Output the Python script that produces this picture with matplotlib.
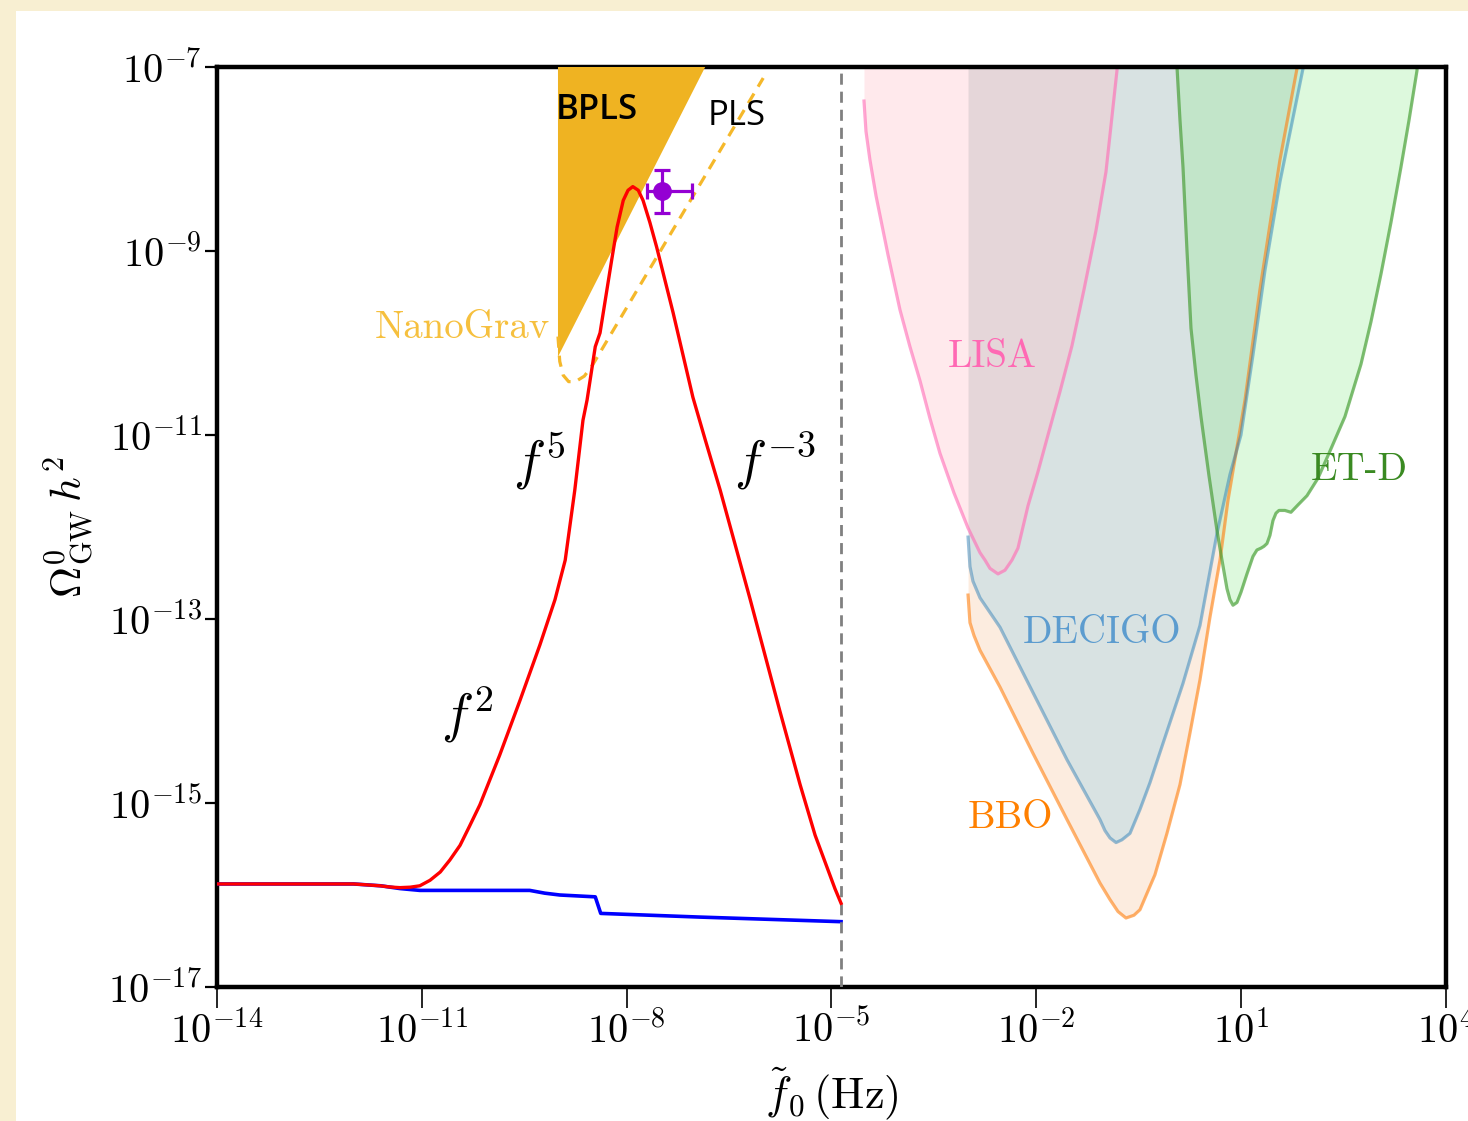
import numpy as np
import matplotlib
matplotlib.use("Agg")
import matplotlib.pyplot as plt
from matplotlib.patches import Rectangle

plt.rcParams['mathtext.fontset'] = 'cm'
plt.rcParams['font.family'] = ['cmr10', 'DejaVu Serif']
plt.rcParams['axes.unicode_minus'] = False

# ---------------- data (log10 values) ----------------
xtick_exp = [-14, -11, -8, -5, -2, 1, 4]
ytick_exp = [-17, -15, -13, -11, -9, -7]
xtick_labels = [r'$10^{-14}$', r'$10^{-11}$', r'$10^{-8}$', r'$10^{-5}$',
                r'$10^{-2}$', r'$10^{1}$', r'$10^{4}$']
ytick_labels = [r'$10^{-17}$', r'$10^{-15}$', r'$10^{-13}$', r'$10^{-11}$',
                r'$10^{-9}$', r'$10^{-7}$']

# red: total spectrum
red_logf = [-14.0, -12.0, -11.80, -11.61, -11.47, -11.32, -11.17, -11.03, -10.88, -10.73,
            -10.59, -10.44, -10.30, -10.15, -9.86, -9.56, -9.27, -9.05, -8.90, -8.76,
            -8.64, -8.58, -8.46, -8.39, -8.22, -8.14, -8.05, -7.98, -7.91, -7.83, -7.76,
            -7.66, -7.56, -7.32, -7.03, -6.85, -6.63, -6.19, -5.76, -5.46, -5.24, -5.05,
            -4.95, -4.86]
red_logomega = [-15.88, -15.88, -15.89, -15.90, -15.913, -15.92, -15.915, -15.90, -15.84,
                -15.75, -15.62, -15.46, -15.25, -15.02, -14.48, -13.88, -13.28, -12.79,
                -12.36, -11.60, -10.84, -10.62, -10.04, -9.89, -9.10, -8.74, -8.45, -8.34,
                -8.30, -8.34, -8.45, -8.69, -8.96, -9.67, -10.59, -11.05, -11.60, -12.79,
                -13.99, -14.80, -15.35, -15.73, -15.93, -16.09]

# blue: standard background
blue_logf = [-14.0, -12.0, -11.6, -11.32, -11.03, -9.9, -9.42, -9.2, -8.98, -8.46, -8.38,
             -6.93, -4.86]
blue_logomega = [-15.88, -15.88, -15.90, -15.93, -15.95, -15.95, -15.95, -15.98, -16.00,
                 -16.02, -16.20, -16.24, -16.29]

# NanoGrav BPLS region
bpls_logf = [-9.006, -9.006, -6.85]
bpls_logomega = [-7.0, -10.15, -7.0]

# NanoGrav PLS (dashed)
pls_logf = [-9.006, -8.98, -8.93, -8.85, -8.75, -8.62, -8.50, -6.00]
pls_logomega = [-9.93, -10.20, -10.35, -10.42, -10.42, -10.36, -10.24, -7.12]

# NanoGrav data point
ng_logf, ng_logf_lo, ng_logf_hi = -7.48, -7.70, -7.04
ng_logomega, ng_logomega_lo, ng_logomega_hi = -8.35, -8.59, -8.12

# vertical dashed line
fcut_logf = -4.86

# detectors
lisa_logf = [-4.524, -4.495, -4.437, -4.348, -4.173, -3.997, -3.851, -3.704, -3.558,
             -3.411, -3.206, -3.001, -2.825, -2.752, -2.679, -2.562, -2.459, -2.357,
             -2.269, -2.122, -1.976, -1.829, -1.654, -1.478, -1.302, -1.127, -0.98,
             -0.819, -0.78]
lisa_logomega = [-7.37, -7.70, -8.01, -8.40, -9.04, -9.64, -10.04, -10.41, -10.82,
                 -11.20, -11.63, -12.01, -12.28, -12.36, -12.45, -12.51, -12.47, -12.36,
                 -12.23, -11.77, -11.40, -11.00, -10.53, -10.03, -9.42, -8.78, -8.14,
                 -7.04, -6.6]

decigo_logf = [-3.0, -2.972, -2.928, -2.825, -2.532, -2.049, -1.551, -1.068, -0.995,
               -0.921, -0.833, -0.746, -0.628, -0.482, -0.336, -0.189, 0.148, 0.397,
               0.646, 0.836, 0.997, 1.173, 1.349, 1.568, 1.905, 1.96]
decigo_logomega = [-12.11, -12.43, -12.59, -12.77, -13.09, -13.80, -14.53, -15.18,
                   -15.30, -15.38, -15.43, -15.40, -15.33, -15.07, -14.78, -14.45,
                   -13.70, -13.07, -12.07, -11.43, -11.00, -10.13, -9.21, -8.25,
                   -7.02, -6.6]

bbo_logf = [-3.0, -2.972, -2.913, -2.825, -2.532, -2.049, -1.551, -1.068, -0.921, -0.804,
            -0.687, -0.57, -0.482, -0.263, -0.087, 0.104, 0.250, 0.397, 0.543, 0.690,
            0.807, 1.056, 1.275, 1.568, 1.817, 1.87]
bbo_logomega = [-12.74, -13.04, -13.18, -13.34, -13.74, -14.46, -15.18, -15.87, -16.05,
                -16.18, -16.25, -16.22, -16.16, -15.78, -15.33, -14.80, -14.24, -13.66,
                -12.98, -12.36, -11.71, -10.62, -9.42, -8.01, -7.02, -6.6]

etd_logf = [0.03, 0.06, 0.104, 0.148, 0.206, 0.265, 0.338, 0.411, 0.528, 0.646, 0.719,
            0.792, 0.836, 0.880, 0.939, 0.997, 1.085, 1.173, 1.231, 1.290, 1.334, 1.378,
            1.422, 1.466, 1.510, 1.554, 1.641, 1.729, 1.832, 1.964, 2.125, 2.286, 2.520,
            2.755, 2.901, 3.048, 3.194, 3.340, 3.458, 3.575, 3.61]
etd_logomega = [-6.6, -7.0, -7.58, -8.09, -8.99, -9.84, -10.35, -10.80, -11.44, -12.04,
                -12.36, -12.67, -12.79, -12.85, -12.82, -12.71, -12.51, -12.32, -12.25,
                -12.23, -12.21, -12.18, -12.09, -11.93, -11.85, -11.82, -11.82, -11.84,
                -11.76, -11.66, -11.47, -11.20, -10.80, -10.23, -9.77, -9.25, -8.69,
                -8.09, -7.58, -7.04, -6.6]


def p(a):
    return 10.0 ** np.asarray(a, dtype=float)


# ---------------- figure ----------------
W, H = 1468, 1121
fig = plt.figure(figsize=(W / 100, H / 100), dpi=100)
fig.patch.set_facecolor('#f8efd2')
fig.patches.append(Rectangle((16 / W, 0), 1, 1 - 11 / H, transform=fig.transFigure,
                             facecolor='white', edgecolor='none', zorder=-10))

ax = fig.add_axes([217 / W, 1 - 987 / H, (1446 - 217) / W, (987 - 67) / H])
ax.set_xscale('log')
ax.set_yscale('log')
ax.set_xlim(1e-14, 1e4)
ax.set_ylim(1e-17, 1e-7)

TOP = 1e-5

# detector fills
ax.fill_between(p(bbo_logf), p(bbo_logomega), TOP, color='sandybrown', alpha=0.2,
                lw=0, zorder=1)
ax.fill_between(p(decigo_logf), p(decigo_logomega), TOP, color='skyblue', alpha=0.3,
                lw=0, zorder=1.1)
ax.fill_between(p(lisa_logf), p(lisa_logomega), TOP, color='pink', alpha=0.35,
                lw=0, zorder=1.2)
ax.fill_between(p(etd_logf), p(etd_logomega), TOP, color='lightgreen', alpha=0.3,
                lw=0, zorder=1.3)

ax.plot(p(bbo_logf), p(bbo_logomega), color='tab:orange', alpha=0.6, lw=2.3, zorder=2)
ax.plot(p(decigo_logf), p(decigo_logomega), color='tab:blue', alpha=0.45, lw=2.3, zorder=2)
ax.plot(p(lisa_logf), p(lisa_logomega), color='hotpink', alpha=0.6, lw=2.3, zorder=2)
ax.plot(p(etd_logf), p(etd_logomega), color='#3f9a2c', alpha=0.65, lw=2.3, zorder=2)

# NanoGrav
ax.fill(p(bpls_logf), p(bpls_logomega), color='#efb322', lw=0, zorder=3)
ax.plot(p(pls_logf), p(pls_logomega), color='#f5b82a', lw=2.3, ls=(0, (3.5, 2.5)),
        zorder=3)

# spectra
ax.plot(p(blue_logf), p(blue_logomega), color='blue', lw=2.6, zorder=4)
ax.plot(p(red_logf), p(red_logomega), color='red', lw=2.4, zorder=5)

ax.axvline(10 ** fcut_logf, color='gray', lw=2.0, ls=(0, (4, 2.5)), zorder=4)

xc, yc = 10 ** ng_logf, 10 ** ng_logomega
ax.errorbar([xc], [yc],
            xerr=[[xc - 10 ** ng_logf_lo], [10 ** ng_logf_hi - xc]],
            yerr=[[yc - 10 ** ng_logomega_lo], [10 ** ng_logomega_hi - yc]],
            fmt='o', color='darkviolet', ms=12.5, elinewidth=2.3, capsize=6, capthick=2.3,
            zorder=6)

# labels
tx = dict(ha='center', va='center', zorder=7)
ax.text(10 ** -10.40, 10 ** -9.84, 'NanoGrav', color='#f6c03e', fontsize=28, **tx)
ax.text(10 ** -8.435, 10 ** -7.47, 'BPLS', color='black', fontsize=25,
        family='Open Sans', weight='semibold', **tx)
ax.text(10 ** -6.384, 10 ** -7.53, 'PLS', color='black', fontsize=25,
        family='Open Sans', weight='medium', **tx)
ax.text(10 ** -9.284, 10 ** -11.29, r'$f^5$', fontsize=39, **tx)
ax.text(10 ** -5.828, 10 ** -11.29, r'$f^{-3}$', fontsize=39, **tx)
ax.text(10 ** -10.34, 10 ** -14.04, r'$f^2$', fontsize=39, **tx)
ax.text(10 ** -2.65, 10 ** -10.15, 'LISA', color='hotpink', fontsize=28, **tx)
ax.text(10 ** -1.039, 10 ** -13.15, 'DECIGO', color='#5c9ccf', fontsize=28, **tx)
ax.text(10 ** -2.386, 10 ** -15.16, 'BBO', color='#ff8000', fontsize=28, **tx)
ax.text(10 ** 2.725, 10 ** -11.38, 'ET-D', color='#3a8a22', fontsize=28, **tx)

# axes styling
ax.set_xticks(p(xtick_exp))
ax.set_xticklabels(xtick_labels)
ax.set_yticks(p(ytick_exp))
ax.set_yticklabels(ytick_labels)
ax.minorticks_off()
ax.tick_params(axis='x', which='major', length=15, width=1.2, labelsize=29, pad=2)
ax.tick_params(axis='y', which='major', length=9, width=1.6, labelsize=29, pad=2)
for s in ax.spines.values():
    s.set_linewidth(3.2)

ax.set_xlabel(r'$\tilde{f}_0\,(\mathrm{Hz})$', fontsize=32, labelpad=10)
ax.set_ylabel(r'$\Omega^0_{\rm GW}\,h^2$', fontsize=31, labelpad=8)

fig.savefig('out.png', dpi=100, facecolor=fig.get_facecolor())
